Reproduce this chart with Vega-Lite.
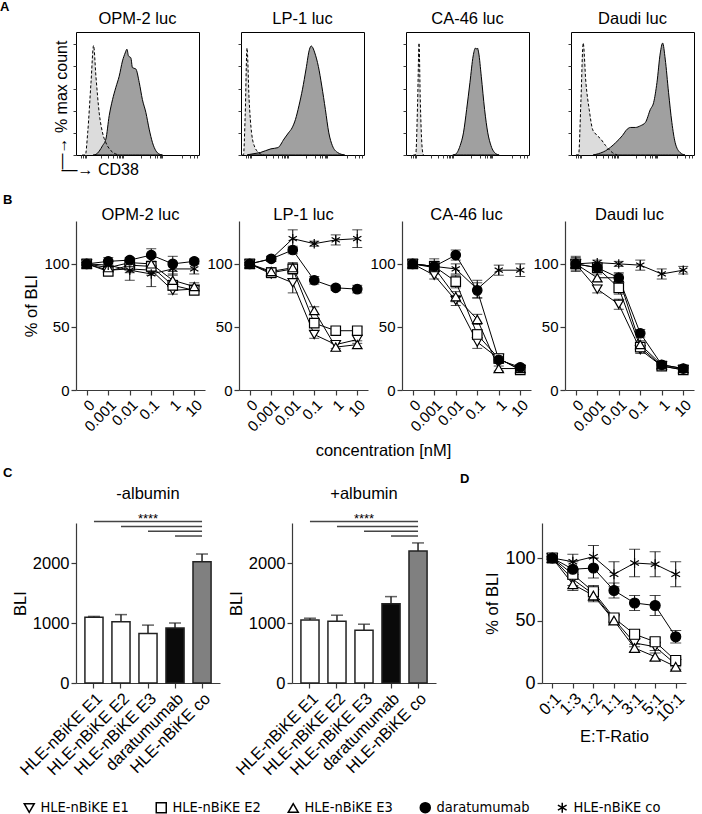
{
"$schema": "https://vega.github.io/schema/vega-lite/v6.json",
"padding": {"left": 0, "top": 1, "right": 0, "bottom": 0},
"config": {
  "font": "Liberation Sans",
  "view": {"stroke": null},
  "axis": {"grid": false, "domainColor": "#3a3a3a", "tickColor": "#3a3a3a", "labelColor": "#000", "titleColor": "#000", "labelFont": "Liberation Sans", "titleFont": "Liberation Sans", "titleFontWeight": "normal", "labelFontSize": 15, "titleFontSize": 16.5, "tickSize": 5, "domainWidth": 1.2, "tickWidth": 1.2, "labelPadding": 2},
  "title": {"font": "Liberation Sans", "fontSize": 16.5, "fontWeight": "normal", "color": "#000"}
},
"datasets": {
  "hist": [
    {"cell":"OPM-2 luc","kind":"iso","x":5,"y":0},{"cell":"OPM-2 luc","kind":"iso","x":7.6,"y":0},{"cell":"OPM-2 luc","kind":"iso","x":9.5,"y":18},{"cell":"OPM-2 luc","kind":"iso","x":12.2,"y":59},{"cell":"OPM-2 luc","kind":"iso","x":14.3,"y":89},{"cell":"OPM-2 luc","kind":"iso","x":16.2,"y":64},{"cell":"OPM-2 luc","kind":"iso","x":18.9,"y":34},{"cell":"OPM-2 luc","kind":"iso","x":21.6,"y":18},{"cell":"OPM-2 luc","kind":"iso","x":24.3,"y":10},{"cell":"OPM-2 luc","kind":"iso","x":28.4,"y":3.5},{"cell":"OPM-2 luc","kind":"iso","x":32.4,"y":0.8},{"cell":"OPM-2 luc","kind":"iso","x":35,"y":0},
    {"cell":"OPM-2 luc","kind":"cd38","x":14,"y":0},{"cell":"OPM-2 luc","kind":"cd38","x":16.2,"y":0.5},{"cell":"OPM-2 luc","kind":"cd38","x":21.6,"y":7.6},{"cell":"OPM-2 luc","kind":"cd38","x":24.3,"y":13},{"cell":"OPM-2 luc","kind":"cd38","x":27,"y":32},{"cell":"OPM-2 luc","kind":"cd38","x":29.7,"y":45},{"cell":"OPM-2 luc","kind":"cd38","x":32.4,"y":55},{"cell":"OPM-2 luc","kind":"cd38","x":35.1,"y":64},{"cell":"OPM-2 luc","kind":"cd38","x":37.8,"y":76.5},{"cell":"OPM-2 luc","kind":"cd38","x":40,"y":83},{"cell":"OPM-2 luc","kind":"cd38","x":41.4,"y":86},{"cell":"OPM-2 luc","kind":"cd38","x":42.7,"y":80.5},{"cell":"OPM-2 luc","kind":"cd38","x":44.6,"y":79},{"cell":"OPM-2 luc","kind":"cd38","x":45.9,"y":71},{"cell":"OPM-2 luc","kind":"cd38","x":48.6,"y":70},{"cell":"OPM-2 luc","kind":"cd38","x":51.4,"y":59},{"cell":"OPM-2 luc","kind":"cd38","x":54,"y":45},{"cell":"OPM-2 luc","kind":"cd38","x":56.8,"y":34.6},{"cell":"OPM-2 luc","kind":"cd38","x":59.5,"y":21},{"cell":"OPM-2 luc","kind":"cd38","x":62.2,"y":10},{"cell":"OPM-2 luc","kind":"cd38","x":64.9,"y":3.5},{"cell":"OPM-2 luc","kind":"cd38","x":67.6,"y":0.8},{"cell":"OPM-2 luc","kind":"cd38","x":70.3,"y":0},
    {"cell":"LP-1 luc","kind":"iso","x":1,"y":0},{"cell":"LP-1 luc","kind":"iso","x":2,"y":0},{"cell":"LP-1 luc","kind":"iso","x":3.4,"y":32},{"cell":"LP-1 luc","kind":"iso","x":4.9,"y":87},{"cell":"LP-1 luc","kind":"iso","x":6.6,"y":45},{"cell":"LP-1 luc","kind":"iso","x":8.6,"y":18},{"cell":"LP-1 luc","kind":"iso","x":11.4,"y":6},{"cell":"LP-1 luc","kind":"iso","x":15.7,"y":1},{"cell":"LP-1 luc","kind":"iso","x":18.6,"y":0},
    {"cell":"LP-1 luc","kind":"cd38","x":5,"y":0},{"cell":"LP-1 luc","kind":"cd38","x":7.1,"y":0.5},{"cell":"LP-1 luc","kind":"cd38","x":15.7,"y":2},{"cell":"LP-1 luc","kind":"cd38","x":24.3,"y":5},{"cell":"LP-1 luc","kind":"cd38","x":30,"y":6},{"cell":"LP-1 luc","kind":"cd38","x":35,"y":13},{"cell":"LP-1 luc","kind":"cd38","x":38.6,"y":18},{"cell":"LP-1 luc","kind":"cd38","x":41.5,"y":22},{"cell":"LP-1 luc","kind":"cd38","x":44.3,"y":29},{"cell":"LP-1 luc","kind":"cd38","x":47.1,"y":40},{"cell":"LP-1 luc","kind":"cd38","x":50,"y":53.5},{"cell":"LP-1 luc","kind":"cd38","x":52.9,"y":70},{"cell":"LP-1 luc","kind":"cd38","x":55.7,"y":86},{"cell":"LP-1 luc","kind":"cd38","x":57.1,"y":88.6},{"cell":"LP-1 luc","kind":"cd38","x":58.5,"y":87},{"cell":"LP-1 luc","kind":"cd38","x":60,"y":83},{"cell":"LP-1 luc","kind":"cd38","x":62.9,"y":72},{"cell":"LP-1 luc","kind":"cd38","x":65.7,"y":56},{"cell":"LP-1 luc","kind":"cd38","x":68.6,"y":37},{"cell":"LP-1 luc","kind":"cd38","x":71.4,"y":18},{"cell":"LP-1 luc","kind":"cd38","x":74.3,"y":7.6},{"cell":"LP-1 luc","kind":"cd38","x":78.6,"y":2},{"cell":"LP-1 luc","kind":"cd38","x":84.3,"y":0},
    {"cell":"CA-46 luc","kind":"iso","x":6,"y":0},{"cell":"CA-46 luc","kind":"iso","x":7.9,"y":0.5},{"cell":"CA-46 luc","kind":"iso","x":9.5,"y":45},{"cell":"CA-46 luc","kind":"iso","x":10.6,"y":91},{"cell":"CA-46 luc","kind":"iso","x":11.6,"y":45},{"cell":"CA-46 luc","kind":"iso","x":13.2,"y":5},{"cell":"CA-46 luc","kind":"iso","x":14.2,"y":0},
    {"cell":"CA-46 luc","kind":"cd38","x":38,"y":0},{"cell":"CA-46 luc","kind":"cd38","x":40.1,"y":0.5},{"cell":"CA-46 luc","kind":"cd38","x":44,"y":7.6},{"cell":"CA-46 luc","kind":"cd38","x":46.7,"y":18},{"cell":"CA-46 luc","kind":"cd38","x":49.3,"y":37},{"cell":"CA-46 luc","kind":"cd38","x":52,"y":59},{"cell":"CA-46 luc","kind":"cd38","x":54.6,"y":80.5},{"cell":"CA-46 luc","kind":"cd38","x":56.5,"y":87},{"cell":"CA-46 luc","kind":"cd38","x":57.3,"y":86},{"cell":"CA-46 luc","kind":"cd38","x":58,"y":87},{"cell":"CA-46 luc","kind":"cd38","x":59.1,"y":83},{"cell":"CA-46 luc","kind":"cd38","x":61.2,"y":64},{"cell":"CA-46 luc","kind":"cd38","x":63.9,"y":37},{"cell":"CA-46 luc","kind":"cd38","x":66.5,"y":18},{"cell":"CA-46 luc","kind":"cd38","x":69.1,"y":7.6},{"cell":"CA-46 luc","kind":"cd38","x":73.1,"y":1},{"cell":"CA-46 luc","kind":"cd38","x":75.7,"y":0},
    {"cell":"Daudi luc","kind":"iso","x":4,"y":0},{"cell":"Daudi luc","kind":"iso","x":6.2,"y":0.5},{"cell":"Daudi luc","kind":"iso","x":8.1,"y":45},{"cell":"Daudi luc","kind":"iso","x":9.9,"y":91},{"cell":"Daudi luc","kind":"iso","x":12.1,"y":59},{"cell":"Daudi luc","kind":"iso","x":14.8,"y":37},{"cell":"Daudi luc","kind":"iso","x":17.5,"y":21},{"cell":"Daudi luc","kind":"iso","x":20.2,"y":17},{"cell":"Daudi luc","kind":"iso","x":24.2,"y":13},{"cell":"Daudi luc","kind":"iso","x":28.2,"y":7.6},{"cell":"Daudi luc","kind":"iso","x":33.6,"y":2},{"cell":"Daudi luc","kind":"iso","x":37.6,"y":0},
    {"cell":"Daudi luc","kind":"cd38","x":18,"y":0},{"cell":"Daudi luc","kind":"cd38","x":20.2,"y":0.5},{"cell":"Daudi luc","kind":"cd38","x":28.2,"y":3.5},{"cell":"Daudi luc","kind":"cd38","x":36.3,"y":10},{"cell":"Daudi luc","kind":"cd38","x":41.7,"y":15.7},{"cell":"Daudi luc","kind":"cd38","x":45.7,"y":21},{"cell":"Daudi luc","kind":"cd38","x":48.4,"y":22.4},{"cell":"Daudi luc","kind":"cd38","x":52.4,"y":22.4},{"cell":"Daudi luc","kind":"cd38","x":56.5,"y":23.8},{"cell":"Daudi luc","kind":"cd38","x":60.5,"y":26.5},{"cell":"Daudi luc","kind":"cd38","x":64.5,"y":37},{"cell":"Daudi luc","kind":"cd38","x":67.2,"y":42.7},{"cell":"Daudi luc","kind":"cd38","x":69.9,"y":59},{"cell":"Daudi luc","kind":"cd38","x":72.6,"y":83},{"cell":"Daudi luc","kind":"cd38","x":74.5,"y":91},{"cell":"Daudi luc","kind":"cd38","x":76.6,"y":78},{"cell":"Daudi luc","kind":"cd38","x":79.3,"y":51},{"cell":"Daudi luc","kind":"cd38","x":82,"y":26.5},{"cell":"Daudi luc","kind":"cd38","x":84.7,"y":10},{"cell":"Daudi luc","kind":"cd38","x":88.7,"y":2},{"cell":"Daudi luc","kind":"cd38","x":92.7,"y":0}
  ],
  "bli": [
    {"cell":"OPM-2 luc","series":"HLE-nBiKE E1","conc":"0","v":100,"sd":1},{"cell":"OPM-2 luc","series":"HLE-nBiKE E1","conc":"0.001","v":95,"sd":2},{"cell":"OPM-2 luc","series":"HLE-nBiKE E1","conc":"0.01","v":96,"sd":3},{"cell":"OPM-2 luc","series":"HLE-nBiKE E1","conc":"0.1","v":95,"sd":4},{"cell":"OPM-2 luc","series":"HLE-nBiKE E1","conc":"1","v":79,"sd":3},{"cell":"OPM-2 luc","series":"HLE-nBiKE E1","conc":"10","v":80,"sd":2},
    {"cell":"OPM-2 luc","series":"HLE-nBiKE E2","conc":"0","v":100,"sd":1},{"cell":"OPM-2 luc","series":"HLE-nBiKE E2","conc":"0.001","v":94,"sd":3},{"cell":"OPM-2 luc","series":"HLE-nBiKE E2","conc":"0.01","v":99,"sd":3},{"cell":"OPM-2 luc","series":"HLE-nBiKE E2","conc":"0.1","v":98,"sd":4},{"cell":"OPM-2 luc","series":"HLE-nBiKE E2","conc":"1","v":83,"sd":4},{"cell":"OPM-2 luc","series":"HLE-nBiKE E2","conc":"10","v":79,"sd":3},
    {"cell":"OPM-2 luc","series":"HLE-nBiKE E3","conc":"0","v":100,"sd":1},{"cell":"OPM-2 luc","series":"HLE-nBiKE E3","conc":"0.001","v":97,"sd":3},{"cell":"OPM-2 luc","series":"HLE-nBiKE E3","conc":"0.01","v":101,"sd":3},{"cell":"OPM-2 luc","series":"HLE-nBiKE E3","conc":"0.1","v":100,"sd":5},{"cell":"OPM-2 luc","series":"HLE-nBiKE E3","conc":"1","v":87,"sd":5},{"cell":"OPM-2 luc","series":"HLE-nBiKE E3","conc":"10","v":82,"sd":3},
    {"cell":"OPM-2 luc","series":"daratumumab","conc":"0","v":100,"sd":1},{"cell":"OPM-2 luc","series":"daratumumab","conc":"0.001","v":102,"sd":3},{"cell":"OPM-2 luc","series":"daratumumab","conc":"0.01","v":103,"sd":2},{"cell":"OPM-2 luc","series":"daratumumab","conc":"0.1","v":107,"sd":5},{"cell":"OPM-2 luc","series":"daratumumab","conc":"1","v":100,"sd":6},{"cell":"OPM-2 luc","series":"daratumumab","conc":"10","v":102,"sd":2},
    {"cell":"OPM-2 luc","series":"HLE-nBiKE co","conc":"0","v":100,"sd":1},{"cell":"OPM-2 luc","series":"HLE-nBiKE co","conc":"0.001","v":99,"sd":3},{"cell":"OPM-2 luc","series":"HLE-nBiKE co","conc":"0.01","v":95,"sd":8},{"cell":"OPM-2 luc","series":"HLE-nBiKE co","conc":"0.1","v":92,"sd":10},{"cell":"OPM-2 luc","series":"HLE-nBiKE co","conc":"1","v":96,"sd":5},{"cell":"OPM-2 luc","series":"HLE-nBiKE co","conc":"10","v":96,"sd":4},
    {"cell":"LP-1 luc","series":"HLE-nBiKE E1","conc":"0","v":100,"sd":1},{"cell":"LP-1 luc","series":"HLE-nBiKE E1","conc":"0.001","v":92,"sd":3},{"cell":"LP-1 luc","series":"HLE-nBiKE E1","conc":"0.01","v":85,"sd":8},{"cell":"LP-1 luc","series":"HLE-nBiKE E1","conc":"0.1","v":44,"sd":3},{"cell":"LP-1 luc","series":"HLE-nBiKE E1","conc":"1","v":36,"sd":3},{"cell":"LP-1 luc","series":"HLE-nBiKE E1","conc":"10","v":40,"sd":3},
    {"cell":"LP-1 luc","series":"HLE-nBiKE E2","conc":"0","v":100,"sd":1},{"cell":"LP-1 luc","series":"HLE-nBiKE E2","conc":"0.001","v":93,"sd":3},{"cell":"LP-1 luc","series":"HLE-nBiKE E2","conc":"0.01","v":96,"sd":4},{"cell":"LP-1 luc","series":"HLE-nBiKE E2","conc":"0.1","v":53,"sd":3},{"cell":"LP-1 luc","series":"HLE-nBiKE E2","conc":"1","v":47,"sd":2},{"cell":"LP-1 luc","series":"HLE-nBiKE E2","conc":"10","v":47,"sd":3},
    {"cell":"LP-1 luc","series":"HLE-nBiKE E3","conc":"0","v":100,"sd":1},{"cell":"LP-1 luc","series":"HLE-nBiKE E3","conc":"0.001","v":94,"sd":3},{"cell":"LP-1 luc","series":"HLE-nBiKE E3","conc":"0.01","v":97,"sd":4},{"cell":"LP-1 luc","series":"HLE-nBiKE E3","conc":"0.1","v":63,"sd":3},{"cell":"LP-1 luc","series":"HLE-nBiKE E3","conc":"1","v":34,"sd":3},{"cell":"LP-1 luc","series":"HLE-nBiKE E3","conc":"10","v":36,"sd":3},
    {"cell":"LP-1 luc","series":"daratumumab","conc":"0","v":100,"sd":1},{"cell":"LP-1 luc","series":"daratumumab","conc":"0.001","v":104,"sd":2},{"cell":"LP-1 luc","series":"daratumumab","conc":"0.01","v":111,"sd":3},{"cell":"LP-1 luc","series":"daratumumab","conc":"0.1","v":87,"sd":3},{"cell":"LP-1 luc","series":"daratumumab","conc":"1","v":81,"sd":2},{"cell":"LP-1 luc","series":"daratumumab","conc":"10","v":80,"sd":3},
    {"cell":"LP-1 luc","series":"HLE-nBiKE co","conc":"0","v":100,"sd":1},{"cell":"LP-1 luc","series":"HLE-nBiKE co","conc":"0.001","v":104,"sd":2},{"cell":"LP-1 luc","series":"HLE-nBiKE co","conc":"0.01","v":120,"sd":7},{"cell":"LP-1 luc","series":"HLE-nBiKE co","conc":"0.1","v":116,"sd":2},{"cell":"LP-1 luc","series":"HLE-nBiKE co","conc":"1","v":119,"sd":4},{"cell":"LP-1 luc","series":"HLE-nBiKE co","conc":"10","v":120,"sd":7},
    {"cell":"CA-46 luc","series":"HLE-nBiKE E1","conc":"0","v":100,"sd":2},{"cell":"CA-46 luc","series":"HLE-nBiKE E1","conc":"0.001","v":91,"sd":3},{"cell":"CA-46 luc","series":"HLE-nBiKE E1","conc":"0.01","v":71,"sd":4},{"cell":"CA-46 luc","series":"HLE-nBiKE E1","conc":"0.1","v":38,"sd":5},{"cell":"CA-46 luc","series":"HLE-nBiKE E1","conc":"1","v":25,"sd":3},{"cell":"CA-46 luc","series":"HLE-nBiKE E1","conc":"10","v":16,"sd":2},
    {"cell":"CA-46 luc","series":"HLE-nBiKE E2","conc":"0","v":100,"sd":3},{"cell":"CA-46 luc","series":"HLE-nBiKE E2","conc":"0.001","v":98,"sd":6},{"cell":"CA-46 luc","series":"HLE-nBiKE E2","conc":"0.01","v":86,"sd":5},{"cell":"CA-46 luc","series":"HLE-nBiKE E2","conc":"0.1","v":44,"sd":4},{"cell":"CA-46 luc","series":"HLE-nBiKE E2","conc":"1","v":25,"sd":3},{"cell":"CA-46 luc","series":"HLE-nBiKE E2","conc":"10","v":16,"sd":2},
    {"cell":"CA-46 luc","series":"HLE-nBiKE E3","conc":"0","v":100,"sd":2},{"cell":"CA-46 luc","series":"HLE-nBiKE E3","conc":"0.001","v":97,"sd":3},{"cell":"CA-46 luc","series":"HLE-nBiKE E3","conc":"0.01","v":74,"sd":4},{"cell":"CA-46 luc","series":"HLE-nBiKE E3","conc":"0.1","v":56,"sd":4},{"cell":"CA-46 luc","series":"HLE-nBiKE E3","conc":"1","v":17,"sd":2},{"cell":"CA-46 luc","series":"HLE-nBiKE E3","conc":"10","v":17,"sd":2},
    {"cell":"CA-46 luc","series":"daratumumab","conc":"0","v":100,"sd":3},{"cell":"CA-46 luc","series":"daratumumab","conc":"0.001","v":98,"sd":4},{"cell":"CA-46 luc","series":"daratumumab","conc":"0.01","v":107,"sd":4},{"cell":"CA-46 luc","series":"daratumumab","conc":"0.1","v":79,"sd":6},{"cell":"CA-46 luc","series":"daratumumab","conc":"1","v":24,"sd":3},{"cell":"CA-46 luc","series":"daratumumab","conc":"10","v":18,"sd":2},
    {"cell":"CA-46 luc","series":"HLE-nBiKE co","conc":"0","v":100,"sd":3},{"cell":"CA-46 luc","series":"HLE-nBiKE co","conc":"0.001","v":98,"sd":4},{"cell":"CA-46 luc","series":"HLE-nBiKE co","conc":"0.01","v":96,"sd":4},{"cell":"CA-46 luc","series":"HLE-nBiKE co","conc":"0.1","v":80,"sd":7},{"cell":"CA-46 luc","series":"HLE-nBiKE co","conc":"1","v":95,"sd":4},{"cell":"CA-46 luc","series":"HLE-nBiKE co","conc":"10","v":95,"sd":5},
    {"cell":"Daudi luc","series":"HLE-nBiKE E1","conc":"0","v":100,"sd":5},{"cell":"Daudi luc","series":"HLE-nBiKE E1","conc":"0.001","v":80,"sd":3},{"cell":"Daudi luc","series":"HLE-nBiKE E1","conc":"0.01","v":68,"sd":4},{"cell":"Daudi luc","series":"HLE-nBiKE E1","conc":"0.1","v":32,"sd":3},{"cell":"Daudi luc","series":"HLE-nBiKE E1","conc":"1","v":19,"sd":2},{"cell":"Daudi luc","series":"HLE-nBiKE E1","conc":"10","v":16,"sd":2},
    {"cell":"Daudi luc","series":"HLE-nBiKE E2","conc":"0","v":100,"sd":6},{"cell":"Daudi luc","series":"HLE-nBiKE E2","conc":"0.001","v":97,"sd":3},{"cell":"Daudi luc","series":"HLE-nBiKE E2","conc":"0.01","v":81,"sd":5},{"cell":"Daudi luc","series":"HLE-nBiKE E2","conc":"0.1","v":34,"sd":3},{"cell":"Daudi luc","series":"HLE-nBiKE E2","conc":"1","v":19,"sd":2},{"cell":"Daudi luc","series":"HLE-nBiKE E2","conc":"10","v":16,"sd":2},
    {"cell":"Daudi luc","series":"HLE-nBiKE E3","conc":"0","v":100,"sd":3},{"cell":"Daudi luc","series":"HLE-nBiKE E3","conc":"0.001","v":89,"sd":3},{"cell":"Daudi luc","series":"HLE-nBiKE E3","conc":"0.01","v":89,"sd":3},{"cell":"Daudi luc","series":"HLE-nBiKE E3","conc":"0.1","v":36,"sd":3},{"cell":"Daudi luc","series":"HLE-nBiKE E3","conc":"1","v":20,"sd":2},{"cell":"Daudi luc","series":"HLE-nBiKE E3","conc":"10","v":17,"sd":2},
    {"cell":"Daudi luc","series":"daratumumab","conc":"0","v":100,"sd":3},{"cell":"Daudi luc","series":"daratumumab","conc":"0.001","v":97,"sd":3},{"cell":"Daudi luc","series":"daratumumab","conc":"0.01","v":89,"sd":4},{"cell":"Daudi luc","series":"daratumumab","conc":"0.1","v":45,"sd":3},{"cell":"Daudi luc","series":"daratumumab","conc":"1","v":20,"sd":2},{"cell":"Daudi luc","series":"daratumumab","conc":"10","v":17,"sd":2},
    {"cell":"Daudi luc","series":"HLE-nBiKE co","conc":"0","v":100,"sd":3},{"cell":"Daudi luc","series":"HLE-nBiKE co","conc":"0.001","v":101,"sd":2},{"cell":"Daudi luc","series":"HLE-nBiKE co","conc":"0.01","v":100,"sd":2},{"cell":"Daudi luc","series":"HLE-nBiKE co","conc":"0.1","v":99,"sd":4},{"cell":"Daudi luc","series":"HLE-nBiKE co","conc":"1","v":92,"sd":4},{"cell":"Daudi luc","series":"HLE-nBiKE co","conc":"10","v":95,"sd":3}
  ],
  "eff": [
    {"series":"HLE-nBiKE E1","ratio":"0:1","v":100,"sd":1},{"series":"HLE-nBiKE E1","ratio":"1:3","v":83,"sd":5},{"series":"HLE-nBiKE E1","ratio":"1:2","v":71,"sd":5},{"series":"HLE-nBiKE E1","ratio":"1:1","v":51,"sd":3},{"series":"HLE-nBiKE E1","ratio":"3:1","v":32,"sd":3},{"series":"HLE-nBiKE E1","ratio":"5:1","v":29,"sd":3},{"series":"HLE-nBiKE E1","ratio":"10:1","v":15,"sd":2},
    {"series":"HLE-nBiKE E2","ratio":"0:1","v":100,"sd":1},{"series":"HLE-nBiKE E2","ratio":"1:3","v":87,"sd":4},{"series":"HLE-nBiKE E2","ratio":"1:2","v":73,"sd":5},{"series":"HLE-nBiKE E2","ratio":"1:1","v":52,"sd":3},{"series":"HLE-nBiKE E2","ratio":"3:1","v":39,"sd":3},{"series":"HLE-nBiKE E2","ratio":"5:1","v":33,"sd":3},{"series":"HLE-nBiKE E2","ratio":"10:1","v":18,"sd":2},
    {"series":"HLE-nBiKE E3","ratio":"0:1","v":100,"sd":1},{"series":"HLE-nBiKE E3","ratio":"1:3","v":79,"sd":5},{"series":"HLE-nBiKE E3","ratio":"1:2","v":70,"sd":5},{"series":"HLE-nBiKE E3","ratio":"1:1","v":50,"sd":3},{"series":"HLE-nBiKE E3","ratio":"3:1","v":28,"sd":3},{"series":"HLE-nBiKE E3","ratio":"5:1","v":21,"sd":3},{"series":"HLE-nBiKE E3","ratio":"10:1","v":13,"sd":2},
    {"series":"daratumumab","ratio":"0:1","v":100,"sd":1},{"series":"daratumumab","ratio":"1:3","v":91,"sd":6},{"series":"daratumumab","ratio":"1:2","v":92,"sd":8},{"series":"daratumumab","ratio":"1:1","v":74,"sd":6},{"series":"daratumumab","ratio":"3:1","v":64,"sd":6},{"series":"daratumumab","ratio":"5:1","v":62,"sd":8},{"series":"daratumumab","ratio":"10:1","v":37,"sd":5},
    {"series":"HLE-nBiKE co","ratio":"0:1","v":100,"sd":1},{"series":"HLE-nBiKE co","ratio":"1:3","v":97,"sd":6},{"series":"HLE-nBiKE co","ratio":"1:2","v":101,"sd":9},{"series":"HLE-nBiKE co","ratio":"1:1","v":87,"sd":10},{"series":"HLE-nBiKE co","ratio":"3:1","v":96,"sd":11},{"series":"HLE-nBiKE co","ratio":"5:1","v":95,"sd":10},{"series":"HLE-nBiKE co","ratio":"10:1","v":87,"sd":10}
  ],
  "bars": [
    {"panel":"-albumin","treatment":"HLE-nBiKE E1","v":1095,"sd":15},{"panel":"-albumin","treatment":"HLE-nBiKE E2","v":1020,"sd":120},{"panel":"-albumin","treatment":"HLE-nBiKE E3","v":825,"sd":140},{"panel":"-albumin","treatment":"daratumumab","v":915,"sd":85},{"panel":"-albumin","treatment":"HLE-nBiKE co","v":2020,"sd":130},
    {"panel":"+albumin","treatment":"HLE-nBiKE E1","v":1050,"sd":30},{"panel":"+albumin","treatment":"HLE-nBiKE E2","v":1030,"sd":100},{"panel":"+albumin","treatment":"HLE-nBiKE E3","v":880,"sd":100},{"panel":"+albumin","treatment":"daratumumab","v":1320,"sd":120},{"panel":"+albumin","treatment":"HLE-nBiKE co","v":2200,"sd":135}
  ],
  "sig": [
    {"panel":"-albumin","from":"HLE-nBiKE E1","to":"HLE-nBiKE co","level":2690},{"panel":"-albumin","from":"HLE-nBiKE E2","to":"HLE-nBiKE co","level":2610},{"panel":"-albumin","from":"HLE-nBiKE E3","to":"HLE-nBiKE co","level":2530},{"panel":"-albumin","from":"daratumumab","to":"HLE-nBiKE co","level":2450},
    {"panel":"+albumin","from":"HLE-nBiKE E1","to":"HLE-nBiKE co","level":2690},{"panel":"+albumin","from":"HLE-nBiKE E2","to":"HLE-nBiKE co","level":2610},{"panel":"+albumin","from":"HLE-nBiKE E3","to":"HLE-nBiKE co","level":2530},{"panel":"+albumin","from":"daratumumab","to":"HLE-nBiKE co","level":2450}
  ],
  "stars": [
    {"panel":"-albumin","at":"HLE-nBiKE E3","level":2740,"label":"****"},
    {"panel":"+albumin","at":"HLE-nBiKE E3","level":2740,"label":"****"}
  ]
},
"spacing": 15,
"vconcat": [
  {
    "title": {"text": "A", "anchor": "start", "frame": "group", "fontWeight": "bold", "fontSize": 13, "dx": -76, "offset": -4},
    "bounds": "flush",
    "spacing": 42,
    "hconcat": [
      {
        "width": 123, "height": 123,
        "view": {"stroke": "#000", "strokeWidth": 1},
        "title": {"text": "OPM-2 luc", "offset": 5},
        "data": {"name": "hist"},
        "transform": [{"filter": "datum.cell === 'OPM-2 luc'"}],
        "encoding": {
          "x": {"field": "x", "type": "quantitative", "scale": {"domain": [0, 100], "nice": false}, "axis": {"labels": false, "domain": false, "tickSize": 3, "tickWidth": 1, "values": [4, 6, 7, 8, 20, 26, 30, 33, 35, 36, 37, 38, 53, 60, 64, 66, 68, 69, 70, 86, 93, 96, 98], "title": "—→    CD38", "titleX": -15, "titleY": 14, "titleAlign": "left", "titleBaseline": "middle", "titleFontSize": 16}},
          "y": {"field": "y", "type": "quantitative", "scale": {"domain": [0, 100], "nice": false}, "axis": {"labels": false, "domain": false, "tickSize": 3, "tickWidth": 1, "values": [0, 18, 36, 54, 72, 90], "title": "—→  % max count", "titleX": -15, "titleY": 137, "titleAlign": "left", "titleBaseline": "middle", "titleFontSize": 16}}
        },
        "layer": [
          {"transform": [{"filter": "datum.kind === 'iso'"}], "mark": {"type": "area", "fill": "#dcdcdc", "interpolate": "monotone"}},
          {"transform": [{"filter": "datum.kind === 'cd38'"}], "mark": {"type": "area", "fill": "#a0a0a0", "stroke": "#000", "strokeWidth": 1, "interpolate": "monotone"}},
          {"transform": [{"filter": "datum.kind === 'iso'"}], "mark": {"type": "line", "color": "#000", "strokeWidth": 1, "strokeDash": [3, 2], "interpolate": "monotone"}}
        ]
      },
      {
        "width": 123, "height": 123,
        "view": {"stroke": "#000", "strokeWidth": 1},
        "title": {"text": "LP-1 luc", "offset": 5},
        "data": {"name": "hist"},
        "transform": [{"filter": "datum.cell === 'LP-1 luc'"}],
        "encoding": {
          "x": {"field": "x", "type": "quantitative", "scale": {"domain": [0, 100], "nice": false}, "axis": {"labels": false, "domain": false, "tickSize": 3, "tickWidth": 1, "values": [4, 6, 7, 8, 20, 26, 30, 33, 35, 36, 37, 38, 53, 60, 64, 66, 68, 69, 70, 86, 93, 96, 98], "title": null}},
          "y": {"field": "y", "type": "quantitative", "scale": {"domain": [0, 100], "nice": false}, "axis": {"labels": false, "domain": false, "tickSize": 3, "tickWidth": 1, "values": [0, 18, 36, 54, 72, 90], "title": null}}
        },
        "layer": [
          {"transform": [{"filter": "datum.kind === 'iso'"}], "mark": {"type": "area", "fill": "#dcdcdc", "interpolate": "monotone"}},
          {"transform": [{"filter": "datum.kind === 'cd38'"}], "mark": {"type": "area", "fill": "#a0a0a0", "stroke": "#000", "strokeWidth": 1, "interpolate": "monotone"}},
          {"transform": [{"filter": "datum.kind === 'iso'"}], "mark": {"type": "line", "color": "#000", "strokeWidth": 1, "strokeDash": [3, 2], "interpolate": "monotone"}}
        ]
      },
      {
        "width": 123, "height": 123,
        "view": {"stroke": "#000", "strokeWidth": 1},
        "title": {"text": "CA-46 luc", "offset": 5},
        "data": {"name": "hist"},
        "transform": [{"filter": "datum.cell === 'CA-46 luc'"}],
        "encoding": {
          "x": {"field": "x", "type": "quantitative", "scale": {"domain": [0, 100], "nice": false}, "axis": {"labels": false, "domain": false, "tickSize": 3, "tickWidth": 1, "values": [4, 6, 7, 8, 20, 26, 30, 33, 35, 36, 37, 38, 53, 60, 64, 66, 68, 69, 70, 86, 93, 96, 98], "title": null}},
          "y": {"field": "y", "type": "quantitative", "scale": {"domain": [0, 100], "nice": false}, "axis": {"labels": false, "domain": false, "tickSize": 3, "tickWidth": 1, "values": [0, 18, 36, 54, 72, 90], "title": null}}
        },
        "layer": [
          {"transform": [{"filter": "datum.kind === 'iso'"}], "mark": {"type": "area", "fill": "#dcdcdc", "interpolate": "monotone"}},
          {"transform": [{"filter": "datum.kind === 'cd38'"}], "mark": {"type": "area", "fill": "#a0a0a0", "stroke": "#000", "strokeWidth": 1, "interpolate": "monotone"}},
          {"transform": [{"filter": "datum.kind === 'iso'"}], "mark": {"type": "line", "color": "#000", "strokeWidth": 1, "strokeDash": [3, 2], "interpolate": "monotone"}}
        ]
      },
      {
        "width": 123, "height": 123,
        "view": {"stroke": "#000", "strokeWidth": 1},
        "title": {"text": "Daudi luc", "offset": 5},
        "data": {"name": "hist"},
        "transform": [{"filter": "datum.cell === 'Daudi luc'"}],
        "encoding": {
          "x": {"field": "x", "type": "quantitative", "scale": {"domain": [0, 100], "nice": false}, "axis": {"labels": false, "domain": false, "tickSize": 3, "tickWidth": 1, "values": [4, 6, 7, 8, 20, 26, 30, 33, 35, 36, 37, 38, 53, 60, 64, 66, 68, 69, 70, 86, 93, 96, 98], "title": null}},
          "y": {"field": "y", "type": "quantitative", "scale": {"domain": [0, 100], "nice": false}, "axis": {"labels": false, "domain": false, "tickSize": 3, "tickWidth": 1, "values": [0, 18, 36, 54, 72, 90], "title": null}}
        },
        "layer": [
          {"transform": [{"filter": "datum.kind === 'iso'"}], "mark": {"type": "area", "fill": "#dcdcdc", "interpolate": "monotone"}},
          {"transform": [{"filter": "datum.kind === 'cd38'"}], "mark": {"type": "area", "fill": "#a0a0a0", "stroke": "#000", "strokeWidth": 1, "interpolate": "monotone"}},
          {"transform": [{"filter": "datum.kind === 'iso'"}], "mark": {"type": "line", "color": "#000", "strokeWidth": 1, "strokeDash": [3, 2], "interpolate": "monotone"}}
        ]
      }
    ]
  },
  {
    "spacing": 7,
    "vconcat": [
      {
        "title": {"text": "concentration [nM]", "orient": "bottom", "anchor": "middle", "frame": "bounds", "dx": 35, "offset": 9},
        "vconcat": [
          {
            "title": {"text": "B", "anchor": "start", "frame": "group", "fontWeight": "bold", "fontSize": 13, "dx": -73, "offset": 0},
            "bounds": "flush",
            "spacing": 34,
            "hconcat": [
              {
                "width": 129, "height": 169,
                "title": {"text": "OPM-2 luc", "offset": -2},
                "data": {"name": "bli"},
                "transform": [{"filter": "datum.cell === 'OPM-2 luc'"}],
                "encoding": {
                  "x": {"field": "conc", "type": "ordinal", "sort": ["0", "0.001", "0.01", "0.1", "1", "10"], "scale": {"type": "point", "padding": 0.5}, "axis": {"title": null, "labelAngle": -45}},
                  "y": {"field": "v", "type": "quantitative", "title": "% of BLI", "scale": {"domain": [0, 134], "nice": false}, "axis": {"values": [0, 50, 100]}}
                },
                "layer": [
                  {"mark": {"type": "line", "color": "#000", "strokeWidth": 1}, "encoding": {"detail": {"field": "series"}, "order": {"value": null}}},
                  {"mark": {"type": "errorbar", "color": "#000", "thickness": 1, "ticks": {"size": 10, "thickness": 1}}, "encoding": {"yError": {"field": "sd"}}},
                  {"mark": {"type": "point", "filled": true, "stroke": "#000", "strokeWidth": 1.2, "size": 90, "opacity": 1}, "encoding": {
                    "shape": {"field": "series", "type": "nominal", "scale": {"domain": ["HLE-nBiKE E1", "HLE-nBiKE E2", "HLE-nBiKE E3", "daratumumab", "HLE-nBiKE co"], "range": ["triangle-down", "square", "triangle-up", "circle", "M0,-1L0,1M-0.87,-0.5L0.87,0.5M-0.87,0.5L0.87,-0.5"]}, "legend": {"title": null, "orient": "none", "direction": "horizontal", "legendX": -54, "legendY": 768, "labelFont": "DejaVu Sans Condensed, Liberation Sans", "labelFontSize": 14.5, "labelColor": "#000", "symbolSize": 100, "columnPadding": 24, "labelOffset": 4, "encode": {"symbols": {"update": {"stroke": {"value": "#000"}, "strokeWidth": {"value": 1.2}}}}}},
                    "fill": {"field": "series", "type": "nominal", "scale": {"domain": ["HLE-nBiKE E1", "HLE-nBiKE E2", "HLE-nBiKE E3", "daratumumab", "HLE-nBiKE co"], "range": ["#fff", "#fff", "#fff", "#000", "#fff"]}, "legend": {"title": null, "orient": "none", "direction": "horizontal", "legendX": -54, "legendY": 768, "labelFont": "DejaVu Sans Condensed, Liberation Sans", "labelFontSize": 14.5, "labelColor": "#000", "symbolSize": 100, "columnPadding": 24, "labelOffset": 4, "encode": {"symbols": {"update": {"stroke": {"value": "#000"}, "strokeWidth": {"value": 1.2}}}}}}}}
                ]
              },
              {
                "width": 129, "height": 169,
                "title": {"text": "LP-1 luc", "offset": -2},
                "data": {"name": "bli"},
                "transform": [{"filter": "datum.cell === 'LP-1 luc'"}],
                "encoding": {
                  "x": {"field": "conc", "type": "ordinal", "sort": ["0", "0.001", "0.01", "0.1", "1", "10"], "scale": {"type": "point", "padding": 0.5}, "axis": {"title": null, "labelAngle": -45}},
                  "y": {"field": "v", "type": "quantitative", "title": null, "scale": {"domain": [0, 134], "nice": false}, "axis": {"values": [0, 50, 100]}}
                },
                "layer": [
                  {"mark": {"type": "line", "color": "#000", "strokeWidth": 1}, "encoding": {"detail": {"field": "series"}, "order": {"value": null}}},
                  {"mark": {"type": "errorbar", "color": "#000", "thickness": 1, "ticks": {"size": 10, "thickness": 1}}, "encoding": {"yError": {"field": "sd"}}},
                  {"mark": {"type": "point", "filled": true, "stroke": "#000", "strokeWidth": 1.2, "size": 90, "opacity": 1}, "encoding": {
                    "shape": {"field": "series", "type": "nominal", "scale": {"domain": ["HLE-nBiKE E1", "HLE-nBiKE E2", "HLE-nBiKE E3", "daratumumab", "HLE-nBiKE co"], "range": ["triangle-down", "square", "triangle-up", "circle", "M0,-1L0,1M-0.87,-0.5L0.87,0.5M-0.87,0.5L0.87,-0.5"]}, "legend": {"title": null, "orient": "none", "direction": "horizontal", "legendX": -54, "legendY": 768, "labelFont": "DejaVu Sans Condensed, Liberation Sans", "labelFontSize": 14.5, "labelColor": "#000", "symbolSize": 100, "columnPadding": 24, "labelOffset": 4, "encode": {"symbols": {"update": {"stroke": {"value": "#000"}, "strokeWidth": {"value": 1.2}}}}}},
                    "fill": {"field": "series", "type": "nominal", "scale": {"domain": ["HLE-nBiKE E1", "HLE-nBiKE E2", "HLE-nBiKE E3", "daratumumab", "HLE-nBiKE co"], "range": ["#fff", "#fff", "#fff", "#000", "#fff"]}, "legend": {"title": null, "orient": "none", "direction": "horizontal", "legendX": -54, "legendY": 768, "labelFont": "DejaVu Sans Condensed, Liberation Sans", "labelFontSize": 14.5, "labelColor": "#000", "symbolSize": 100, "columnPadding": 24, "labelOffset": 4, "encode": {"symbols": {"update": {"stroke": {"value": "#000"}, "strokeWidth": {"value": 1.2}}}}}}}}
                ]
              },
              {
                "width": 129, "height": 169,
                "title": {"text": "CA-46 luc", "offset": -2},
                "data": {"name": "bli"},
                "transform": [{"filter": "datum.cell === 'CA-46 luc'"}],
                "encoding": {
                  "x": {"field": "conc", "type": "ordinal", "sort": ["0", "0.001", "0.01", "0.1", "1", "10"], "scale": {"type": "point", "padding": 0.5}, "axis": {"title": null, "labelAngle": -45}},
                  "y": {"field": "v", "type": "quantitative", "title": null, "scale": {"domain": [0, 134], "nice": false}, "axis": {"values": [0, 50, 100]}}
                },
                "layer": [
                  {"mark": {"type": "line", "color": "#000", "strokeWidth": 1}, "encoding": {"detail": {"field": "series"}, "order": {"value": null}}},
                  {"mark": {"type": "errorbar", "color": "#000", "thickness": 1, "ticks": {"size": 10, "thickness": 1}}, "encoding": {"yError": {"field": "sd"}}},
                  {"mark": {"type": "point", "filled": true, "stroke": "#000", "strokeWidth": 1.2, "size": 90, "opacity": 1}, "encoding": {
                    "shape": {"field": "series", "type": "nominal", "scale": {"domain": ["HLE-nBiKE E1", "HLE-nBiKE E2", "HLE-nBiKE E3", "daratumumab", "HLE-nBiKE co"], "range": ["triangle-down", "square", "triangle-up", "circle", "M0,-1L0,1M-0.87,-0.5L0.87,0.5M-0.87,0.5L0.87,-0.5"]}, "legend": {"title": null, "orient": "none", "direction": "horizontal", "legendX": -54, "legendY": 768, "labelFont": "DejaVu Sans Condensed, Liberation Sans", "labelFontSize": 14.5, "labelColor": "#000", "symbolSize": 100, "columnPadding": 24, "labelOffset": 4, "encode": {"symbols": {"update": {"stroke": {"value": "#000"}, "strokeWidth": {"value": 1.2}}}}}},
                    "fill": {"field": "series", "type": "nominal", "scale": {"domain": ["HLE-nBiKE E1", "HLE-nBiKE E2", "HLE-nBiKE E3", "daratumumab", "HLE-nBiKE co"], "range": ["#fff", "#fff", "#fff", "#000", "#fff"]}, "legend": {"title": null, "orient": "none", "direction": "horizontal", "legendX": -54, "legendY": 768, "labelFont": "DejaVu Sans Condensed, Liberation Sans", "labelFontSize": 14.5, "labelColor": "#000", "symbolSize": 100, "columnPadding": 24, "labelOffset": 4, "encode": {"symbols": {"update": {"stroke": {"value": "#000"}, "strokeWidth": {"value": 1.2}}}}}}}}
                ]
              },
              {
                "width": 129, "height": 169,
                "title": {"text": "Daudi luc", "offset": -2},
                "data": {"name": "bli"},
                "transform": [{"filter": "datum.cell === 'Daudi luc'"}],
                "encoding": {
                  "x": {"field": "conc", "type": "ordinal", "sort": ["0", "0.001", "0.01", "0.1", "1", "10"], "scale": {"type": "point", "padding": 0.5}, "axis": {"title": null, "labelAngle": -45}},
                  "y": {"field": "v", "type": "quantitative", "title": null, "scale": {"domain": [0, 134], "nice": false}, "axis": {"values": [0, 50, 100]}}
                },
                "layer": [
                  {"mark": {"type": "line", "color": "#000", "strokeWidth": 1}, "encoding": {"detail": {"field": "series"}, "order": {"value": null}}},
                  {"mark": {"type": "errorbar", "color": "#000", "thickness": 1, "ticks": {"size": 10, "thickness": 1}}, "encoding": {"yError": {"field": "sd"}}},
                  {"mark": {"type": "point", "filled": true, "stroke": "#000", "strokeWidth": 1.2, "size": 90, "opacity": 1}, "encoding": {
                    "shape": {"field": "series", "type": "nominal", "scale": {"domain": ["HLE-nBiKE E1", "HLE-nBiKE E2", "HLE-nBiKE E3", "daratumumab", "HLE-nBiKE co"], "range": ["triangle-down", "square", "triangle-up", "circle", "M0,-1L0,1M-0.87,-0.5L0.87,0.5M-0.87,0.5L0.87,-0.5"]}, "legend": {"title": null, "orient": "none", "direction": "horizontal", "legendX": -54, "legendY": 768, "labelFont": "DejaVu Sans Condensed, Liberation Sans", "labelFontSize": 14.5, "labelColor": "#000", "symbolSize": 100, "columnPadding": 24, "labelOffset": 4, "encode": {"symbols": {"update": {"stroke": {"value": "#000"}, "strokeWidth": {"value": 1.2}}}}}},
                    "fill": {"field": "series", "type": "nominal", "scale": {"domain": ["HLE-nBiKE E1", "HLE-nBiKE E2", "HLE-nBiKE E3", "daratumumab", "HLE-nBiKE co"], "range": ["#fff", "#fff", "#fff", "#000", "#fff"]}, "legend": {"title": null, "orient": "none", "direction": "horizontal", "legendX": -54, "legendY": 768, "labelFont": "DejaVu Sans Condensed, Liberation Sans", "labelFontSize": 14.5, "labelColor": "#000", "symbolSize": 100, "columnPadding": 24, "labelOffset": 4, "encode": {"symbols": {"update": {"stroke": {"value": "#000"}, "strokeWidth": {"value": 1.2}}}}}}}}
                ]
              }
            ]
          }
        ]
      },
      {
        "spacing": 24,
        "hconcat": [
          {
            "title": {"text": "C", "anchor": "start", "frame": "group", "fontWeight": "bold", "fontSize": 13, "dx": -73, "offset": 6},
            "bounds": "flush",
            "spacing": 72,
            "hconcat": [
              {
                "width": 144, "height": 160,
                "title": {"text": "-albumin", "offset": 10},
                "layer": [
                  {
                    "data": {"name": "bars"},
                    "transform": [{"filter": "datum.panel === '-albumin'"}],
                    "mark": {"type": "errorbar", "color": "#222", "thickness": 1.5, "ticks": {"size": 12, "thickness": 1.5}},
                    "encoding": {
                      "x": {"field": "treatment", "type": "nominal", "title": null, "scale": {"domain": ["HLE-nBiKE E1", "HLE-nBiKE E2", "HLE-nBiKE E3", "daratumumab", "HLE-nBiKE co"], "paddingInner": 0.33, "paddingOuter": 0.33}, "axis": {"labelAngle": -45, "labelFontSize": 16.5}},
                      "y": {"field": "v", "type": "quantitative", "title": "BLI", "scale": {"domain": [0, 2667], "nice": false}, "axis": {"values": [0, 1000, 2000], "format": "d", "labelFontSize": 16.5}},
                      "yError": {"field": "sd"}
                    }
                  },
                  {
                    "data": {"name": "bars"},
                    "transform": [{"filter": "datum.panel === '-albumin'"}],
                    "mark": {"type": "bar", "stroke": "#222", "strokeWidth": 1.5},
                    "encoding": {
                      "x": {"field": "treatment", "type": "nominal", "title": null},
                      "y": {"field": "v", "type": "quantitative", "title": "BLI"},
                      "color": {"field": "treatment", "type": "nominal", "scale": {"domain": ["HLE-nBiKE E1", "HLE-nBiKE E2", "HLE-nBiKE E3", "daratumumab", "HLE-nBiKE co"], "range": ["#fff", "#fff", "#fff", "#0a0a0a", "#808080"]}, "legend": null}
                    }
                  },
                  {
                    "data": {"name": "sig"},
                    "transform": [{"filter": "datum.panel === '-albumin'"}],
                    "mark": {"type": "rule", "color": "#444", "strokeWidth": 1.5},
                    "encoding": {
                      "x": {"field": "from", "type": "nominal", "title": null, "bandPosition": 0.5},
                      "x2": {"field": "to", "bandPosition": 0.5},
                      "y": {"field": "level", "type": "quantitative", "title": "BLI"}
                    }
                  },
                  {
                    "data": {"name": "stars"},
                    "transform": [{"filter": "datum.panel === '-albumin'"}],
                    "mark": {"type": "text", "fontSize": 13, "baseline": "middle"},
                    "encoding": {
                      "x": {"field": "at", "type": "nominal", "title": null, "bandPosition": 0.5},
                      "y": {"field": "level", "type": "quantitative", "title": "BLI"},
                      "text": {"field": "label"}
                    }
                  }
                ]
              },
              {
                "width": 144, "height": 160,
                "title": {"text": "+albumin", "offset": 10},
                "layer": [
                  {
                    "data": {"name": "bars"},
                    "transform": [{"filter": "datum.panel === '+albumin'"}],
                    "mark": {"type": "errorbar", "color": "#222", "thickness": 1.5, "ticks": {"size": 12, "thickness": 1.5}},
                    "encoding": {
                      "x": {"field": "treatment", "type": "nominal", "title": null, "scale": {"domain": ["HLE-nBiKE E1", "HLE-nBiKE E2", "HLE-nBiKE E3", "daratumumab", "HLE-nBiKE co"], "paddingInner": 0.33, "paddingOuter": 0.33}, "axis": {"labelAngle": -45, "labelFontSize": 16.5}},
                      "y": {"field": "v", "type": "quantitative", "title": "BLI", "scale": {"domain": [0, 2667], "nice": false}, "axis": {"values": [0, 1000, 2000], "format": "d", "labelFontSize": 16.5}},
                      "yError": {"field": "sd"}
                    }
                  },
                  {
                    "data": {"name": "bars"},
                    "transform": [{"filter": "datum.panel === '+albumin'"}],
                    "mark": {"type": "bar", "stroke": "#222", "strokeWidth": 1.5},
                    "encoding": {
                      "x": {"field": "treatment", "type": "nominal", "title": null},
                      "y": {"field": "v", "type": "quantitative", "title": "BLI"},
                      "color": {"field": "treatment", "type": "nominal", "scale": {"domain": ["HLE-nBiKE E1", "HLE-nBiKE E2", "HLE-nBiKE E3", "daratumumab", "HLE-nBiKE co"], "range": ["#fff", "#fff", "#fff", "#0a0a0a", "#808080"]}, "legend": null}
                    }
                  },
                  {
                    "data": {"name": "sig"},
                    "transform": [{"filter": "datum.panel === '+albumin'"}],
                    "mark": {"type": "rule", "color": "#444", "strokeWidth": 1.5},
                    "encoding": {
                      "x": {"field": "from", "type": "nominal", "title": null, "bandPosition": 0.5},
                      "x2": {"field": "to", "bandPosition": 0.5},
                      "y": {"field": "level", "type": "quantitative", "title": "BLI"}
                    }
                  },
                  {
                    "data": {"name": "stars"},
                    "transform": [{"filter": "datum.panel === '+albumin'"}],
                    "mark": {"type": "text", "fontSize": 13, "baseline": "middle"},
                    "encoding": {
                      "x": {"field": "at", "type": "nominal", "title": null, "bandPosition": 0.5},
                      "y": {"field": "level", "type": "quantitative", "title": "BLI"},
                      "text": {"field": "label"}
                    }
                  }
                ]
              }
            ]
          },
          {
            "width": 144, "height": 160,
            "title": {"text": "D", "anchor": "start", "frame": "group", "fontWeight": "bold", "fontSize": 13, "dx": -82, "offset": 37},
            "data": {"name": "eff"},
            "encoding": {
              "x": {"field": "ratio", "type": "ordinal", "title": "E:T-Ratio", "sort": ["0:1", "1:3", "1:2", "1:1", "3:1", "5:1", "10:1"], "scale": {"type": "point", "padding": 0.5}, "axis": {"labelAngle": -45, "labelFontSize": 16.5}},
              "y": {"field": "v", "type": "quantitative", "title": "% of BLI", "scale": {"domain": [0, 128], "nice": false}, "axis": {"values": [0, 50, 100], "labelFontSize": 18}}
            },
            "layer": [
              {"mark": {"type": "line", "color": "#000", "strokeWidth": 1}, "encoding": {"detail": {"field": "series"}, "order": {"value": null}}},
              {"mark": {"type": "errorbar", "color": "#000", "thickness": 1, "ticks": {"size": 11, "thickness": 1}}, "encoding": {"yError": {"field": "sd"}}},
              {"mark": {"type": "point", "filled": true, "stroke": "#000", "strokeWidth": 1.2, "size": 100, "opacity": 1}, "encoding": {
                "shape": {"field": "series", "type": "nominal", "scale": {"domain": ["HLE-nBiKE E1", "HLE-nBiKE E2", "HLE-nBiKE E3", "daratumumab", "HLE-nBiKE co"], "range": ["triangle-down", "square", "triangle-up", "circle", "M0,-1L0,1M-0.87,-0.5L0.87,0.5M-0.87,0.5L0.87,-0.5"]}, "legend": {"title": null, "orient": "none", "direction": "horizontal", "legendX": -54, "legendY": 768, "labelFont": "DejaVu Sans Condensed, Liberation Sans", "labelFontSize": 14.5, "labelColor": "#000", "symbolSize": 100, "columnPadding": 24, "labelOffset": 4, "encode": {"symbols": {"update": {"stroke": {"value": "#000"}, "strokeWidth": {"value": 1.2}}}}}},
                "fill": {"field": "series", "type": "nominal", "scale": {"domain": ["HLE-nBiKE E1", "HLE-nBiKE E2", "HLE-nBiKE E3", "daratumumab", "HLE-nBiKE co"], "range": ["#fff", "#fff", "#fff", "#000", "#fff"]}, "legend": {"title": null, "orient": "none", "direction": "horizontal", "legendX": -54, "legendY": 768, "labelFont": "DejaVu Sans Condensed, Liberation Sans", "labelFontSize": 14.5, "labelColor": "#000", "symbolSize": 100, "columnPadding": 24, "labelOffset": 4, "encode": {"symbols": {"update": {"stroke": {"value": "#000"}, "strokeWidth": {"value": 1.2}}}}}}}}
            ]
          }
        ]
      }
    ]
  }
]
}
